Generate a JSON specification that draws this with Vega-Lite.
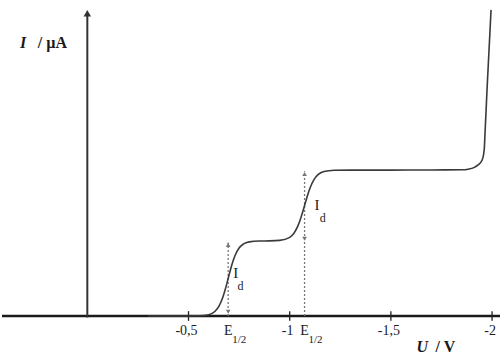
{
  "$schema": "https://vega.github.io/schema/vega-lite/v6.json",
  "width": 502,
  "height": 356,
  "padding": 0,
  "autosize": {"type": "fit", "contains": "padding"},
  "background": "white",
  "config": {"view": {"stroke": null}},
  "encoding": {
    "x": {"field": "V", "type": "quantitative", "axis": null, "scale": {"domain": [-2.0392, 0.4216], "reverse": true, "nice": false, "zero": false}},
    "y": {"field": "I", "type": "quantitative", "axis": null, "scale": {"domain": [-13.16, 103.95], "nice": false, "zero": false}}
  },
  "layer": [
    {
      "data": {"values": [{"V": 0.4216, "V2": -2.0392, "I": 0}]},
      "mark": {"type": "rule", "color": "#1a1a1a", "strokeWidth": 2.5},
      "encoding": {"x2": {"field": "V2"}}
    },
    {
      "data": {"values": [{"V": 0, "I": -0.5, "I2": 99}]},
      "mark": {"type": "rule", "color": "#333333", "strokeWidth": 2},
      "encoding": {"y2": {"field": "I2"}}
    },
    {
      "data": {"values": [{"V": 0, "I": 99.6}]},
      "mark": {"type": "point", "shape": "triangle-up", "filled": true, "color": "#333333", "size": 55, "opacity": 1}
    },
    {
      "data": {"values": [{"V": -0.5, "I": -1.6, "I2": 1.6}, {"V": -1.0, "I": -1.6, "I2": 1.6}, {"V": -1.5, "I": -1.6, "I2": 1.6}, {"V": -2.0, "I": -1.6, "I2": 1.6}]},
      "mark": {"type": "rule", "color": "#222222", "strokeWidth": 1.3},
      "encoding": {"y2": {"field": "I2"}}
    },
    {
      "data": {"values": [{"V": -0.5, "I": -6.4, "t": "-0,5"}, {"V": -1.0, "I": -6.4, "t": "-1"}, {"V": -1.5, "I": -6.4, "t": "-1,5"}, {"V": -2.0, "I": -6.4, "t": "-2"}]},
      "mark": {"type": "text", "font": "Liberation Serif", "fontSize": 14, "color": "#222222", "align": "center", "baseline": "alphabetic", "dx": -2},
      "encoding": {"text": {"field": "t"}}
    },
    {
      "data": {"values": [{"V": -0.696, "I": 0, "I2": 24.2}, {"V": -1.0735, "I": 0, "I2": 47.6}]},
      "mark": {"type": "rule", "color": "#777777", "strokeWidth": 1.3, "strokeDash": [2, 2]},
      "encoding": {"y2": {"field": "I2"}}
    },
    {
      "data": {"values": [{"V": -0.696, "I": 23.4, "dir": "up"}, {"V": -0.696, "I": 1.4, "dir": "down"}, {"V": -1.0735, "I": 46.7, "dir": "up"}, {"V": -1.0735, "I": 25.4, "dir": "down"}]},
      "mark": {"type": "point", "filled": true, "color": "#777777", "size": 22, "opacity": 1},
      "encoding": {"shape": {"field": "dir", "type": "nominal", "legend": null, "scale": {"domain": ["up", "down"], "range": ["triangle-up", "triangle-down"]}}}
    },
    {
      "data": {"values": [
        {"V": -0.30, "I": 0}, {"V": -0.40, "I": 0}, {"V": -0.50, "I": 0.02}, {"V": -0.55, "I": 0.06},
        {"V": -0.60, "I": 0.44}, {"V": -0.63, "I": 1.48}, {"V": -0.65, "I": 3.16}, {"V": -0.67, "I": 6.25},
        {"V": -0.68, "I": 8.38}, {"V": -0.69, "I": 10.82}, {"V": -0.70, "I": 13.38}, {"V": -0.71, "I": 15.86},
        {"V": -0.72, "I": 18.06}, {"V": -0.73, "I": 19.89}, {"V": -0.75, "I": 22.35}, {"V": -0.77, "I": 23.61},
        {"V": -0.80, "I": 24.38}, {"V": -0.85, "I": 24.66}, {"V": -0.90, "I": 24.7}, {"V": -0.95, "I": 24.87},
        {"V": -1.00, "I": 25.87}, {"V": -1.02, "I": 27.14}, {"V": -1.04, "I": 29.55}, {"V": -1.05, "I": 31.25},
        {"V": -1.06, "I": 33.28}, {"V": -1.07, "I": 35.54}, {"V": -1.08, "I": 37.86}, {"V": -1.09, "I": 40.05},
        {"V": -1.10, "I": 42.01}, {"V": -1.12, "I": 44.85}, {"V": -1.14, "I": 46.48}, {"V": -1.17, "I": 47.51},
        {"V": -1.22, "I": 47.93}, {"V": -1.30, "I": 48.0}, {"V": -1.50, "I": 48.0}, {"V": -1.70, "I": 48.05},
        {"V": -1.85, "I": 48.1}, {"V": -1.882, "I": 48.3}, {"V": -1.91, "I": 48.8}, {"V": -1.931, "I": 49.7},
        {"V": -1.951, "I": 51.3}, {"V": -1.961, "I": 54.6}, {"V": -1.966, "I": 61.2}, {"V": -1.975, "I": 74.3},
        {"V": -1.985, "I": 87.5}, {"V": -1.995, "I": 100.7}
      ]},
      "mark": {"type": "line", "color": "#3a3a3a", "strokeWidth": 1.6, "interpolate": "monotone"}
    },
    {
      "data": {"values": [{"V": -0.696, "I": -6.4, "t": "E"}, {"V": -1.0735, "I": -6.4, "t": "E"}]},
      "mark": {"type": "text", "font": "Liberation Serif", "fontSize": 14, "color": "#222222", "align": "center", "baseline": "alphabetic"},
      "encoding": {"text": {"field": "t"}}
    },
    {
      "data": {"values": [{"V": -0.696, "I": -9.0, "t": "1/2"}, {"V": -1.0735, "I": -9.0, "t": "1/2"}]},
      "mark": {"type": "text", "font": "Liberation Serif", "fontSize": 11, "color": "#222222", "align": "left", "baseline": "alphabetic", "dx": 4},
      "encoding": {"text": {"field": "t"}}
    },
    {
      "data": {"values": [{"V": -0.7206, "I": 12.5, "t": "I"}, {"V": -1.1225, "I": 34.9, "t": "I"}]},
      "mark": {"type": "text", "font": "Liberation Serif", "fontSize": 15, "color": "#222222", "align": "left", "baseline": "alphabetic"},
      "encoding": {"text": {"field": "t"}}
    },
    {
      "data": {"values": [{"V": -0.742, "I": 8.6, "t": "d"}, {"V": -1.149, "I": 30.9, "t": "d"}]},
      "mark": {"type": "text", "font": "Liberation Serif", "fontSize": 12, "color": "#222222", "align": "left", "baseline": "alphabetic"},
      "encoding": {"text": {"field": "t"}}
    },
    {
      "data": {"values": [{"V": 0.333, "I": 88.2, "t": "I"}, {"V": -1.627, "I": -11.8, "t": "U"}]},
      "mark": {"type": "text", "font": "Liberation Serif", "fontSize": 16, "fontStyle": "italic", "fontWeight": "bold", "color": "#1a1a1a", "align": "left", "baseline": "alphabetic"},
      "encoding": {"text": {"field": "t"}}
    },
    {
      "data": {"values": [{"V": 0.245, "I": 88.2, "t": "/ µA"}, {"V": -1.7206, "I": -11.8, "t": "/ V"}]},
      "mark": {"type": "text", "font": "Liberation Serif", "fontSize": 16, "fontWeight": "bold", "color": "#1a1a1a", "align": "left", "baseline": "alphabetic"},
      "encoding": {"text": {"field": "t"}}
    }
  ]
}
